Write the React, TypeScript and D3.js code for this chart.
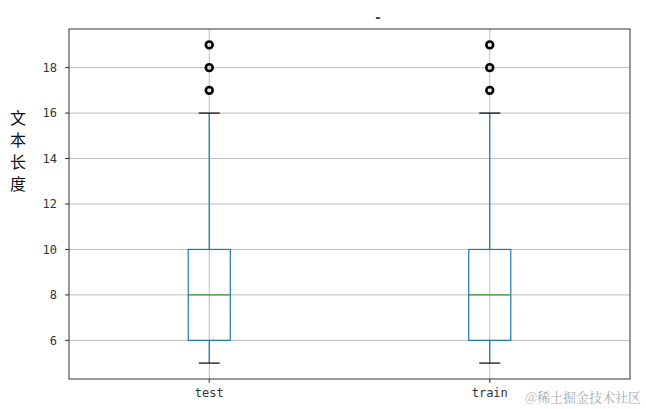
import React from 'react';
import * as d3 from 'd3';

// box statistics per category
const categories = ['test', 'train'];
const whiskerLow = [5, 5];
const q1 = [6, 6];
const medians = [8, 8];
const q3 = [10, 10];
const whiskerHigh = [16, 16];
const fliers = [
  [17, 18, 19],
  [17, 18, 19],
];
const yTicks = [6, 8, 10, 12, 14, 16, 18];
const yLabel = ['文', '本', '长', '度'];

const W = 646;
const H = 409;
const margin = { top: 29, right: 16, bottom: 30, left: 69 };

export default function App() {
  const innerW = W - margin.left - margin.right;
  const innerH = H - margin.top - margin.bottom;

  const x = d3.scaleLinear().domain([0.5, 2.5]).range([0, innerW]);
  const y = d3.scaleLinear().domain([4.3, 19.7]).range([innerH, 0]);

  const boxHalf = x(1.075) - x(1);
  const capHalf = boxHalf / 2;

  return (
    <div style={{ position: 'absolute', left: 0, top: 0 }}>
      <svg width={W} height={H} style={{ display: 'block', background: '#fff' }}>
        <text x={378} y={22} fontSize={13} fontWeight="bold" textAnchor="middle" fill="#333" fontFamily="DejaVu Sans">-</text>
        <g transform={`translate(${margin.left},${margin.top})`}>
          {/* grid */}
          {yTicks.map(t => (
            <line key={'gy' + t} x1={0} x2={innerW} y1={y(t)} y2={y(t)} stroke="#bdbdbd" strokeWidth={1} />
          ))}
          {categories.map((c, i) => (
            <line key={'gx' + c} x1={x(i + 1)} x2={x(i + 1)} y1={0} y2={innerH} stroke="#bdbdbd" strokeWidth={1} />
          ))}

          {categories.map((c, i) => {
            const cx = x(i + 1);
            return (
              <g key={c}>
                <line x1={cx} x2={cx} y1={y(whiskerLow[i])} y2={y(q1[i])} stroke="#1f77b4" strokeWidth={1.2} />
                <line x1={cx} x2={cx} y1={y(q3[i])} y2={y(whiskerHigh[i])} stroke="#1f77b4" strokeWidth={1.2} />
                <rect x={cx - boxHalf} y={y(q3[i])} width={boxHalf * 2} height={y(q1[i]) - y(q3[i])}
                  fill="none" stroke="#1f77b4" strokeWidth={1.2} />
                <line x1={cx - boxHalf} x2={cx + boxHalf} y1={y(medians[i])} y2={y(medians[i])} stroke="#2ca02c" strokeWidth={1.2} />
                <line x1={cx - capHalf} x2={cx + capHalf} y1={y(whiskerLow[i])} y2={y(whiskerLow[i])} stroke="#000" strokeWidth={1.2} />
                <line x1={cx - capHalf} x2={cx + capHalf} y1={y(whiskerHigh[i])} y2={y(whiskerHigh[i])} stroke="#000" strokeWidth={1.2} />
                {fliers[i].map(f => (
                  <circle key={f} cx={cx} cy={y(f)} r={3.4} fill="none" stroke="#000" strokeWidth={2.6} />
                ))}
              </g>
            );
          })}

          {/* frame */}
          <rect x={0} y={0} width={innerW} height={innerH} fill="none" stroke="#333" strokeWidth={1} />

          {/* y axis ticks */}
          {yTicks.map(t => (
            <g key={'ty' + t} transform={`translate(0,${y(t)})`}>
              <line x1={-4} x2={0} stroke="#333" />
              <text x={-12} dy="0.35em" textAnchor="end" fontSize={12} fill="#333" fontFamily="DejaVu Sans Mono">{t}</text>
            </g>
          ))}
          {/* x axis ticks */}
          {categories.map((c, i) => (
            <g key={'tx' + c} transform={`translate(${x(i + 1)},${innerH})`}>
              <line y1={0} y2={4} stroke="#333" />
              <text y={18} textAnchor="middle" fontSize={12} fill="#333" fontFamily="DejaVu Sans Mono">{c}</text>
            </g>
          ))}
        </g>

        {/* y label, stacked characters */}
        {yLabel.map((ch, i) => (
          <text key={ch} x={18} y={124 + i * 22} textAnchor="middle" fontSize={16} fill="#111"
            fontFamily="Noto Sans CJK SC">{ch}</text>
        ))}

        <text x={641} y={402} textAnchor="end" fontSize={13} fill="#aaa" fontFamily="Noto Serif CJK SC, Noto Sans CJK SC">@稀土掘金技术社区</text>
      </svg>
    </div>
  );
}
